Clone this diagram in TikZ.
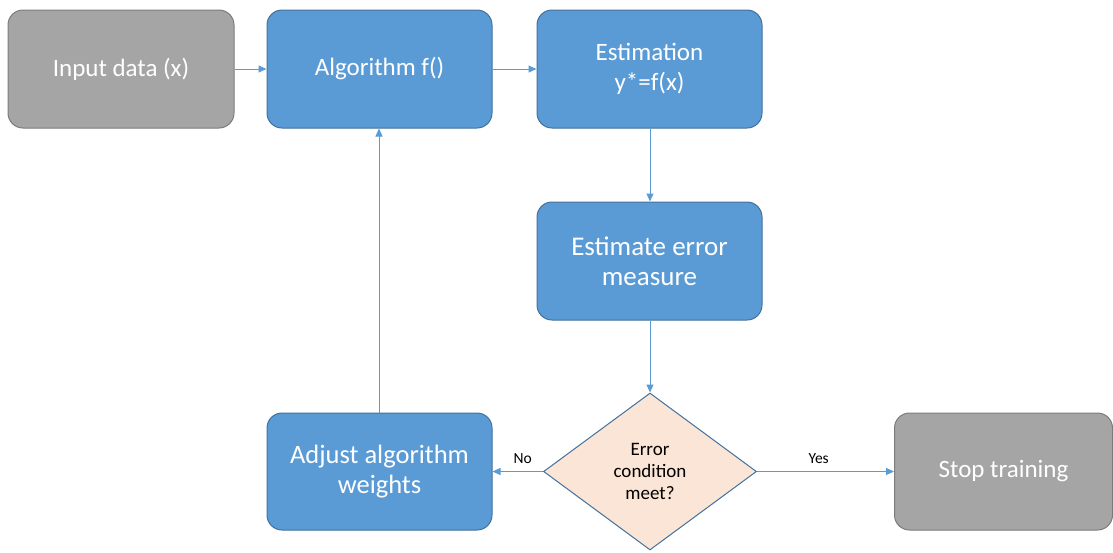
\documentclass[tikz,border=0pt]{standalone}
\usepackage{fontspec}
\setmainfont{Carlito}
\usetikzlibrary{shapes.geometric,arrows.meta}
\definecolor{bfill}{HTML}{5B9BD5}
\definecolor{bline}{HTML}{41719C}
\definecolor{gfill}{HTML}{A5A5A5}
\definecolor{gline}{HTML}{7C7C7C}
\definecolor{dfill}{HTML}{FBE5D6}
\definecolor{arr}{HTML}{5B9BD5}
\tikzset{
  box/.style={draw=bline, fill=bfill, line width=1pt, rounded corners=15pt,
    minimum width=225pt, minimum height=118pt, text=white, align=center,
    font=\fontsize{25}{30}\selectfont, inner sep=0pt},
  gbox/.style={box, draw=gline, fill=gfill},
  decis/.style={diamond, draw=bline, fill=dfill, line width=1pt,
    minimum width=213pt, minimum height=157pt, align=center, inner sep=0pt,
    font=\fontsize{19}{22}\selectfont},
  conn/.style={draw=arr, line width=1pt, -{Triangle[length=8pt,width=7pt]}},
  lbl/.style={font=\fontsize{15.5}{17}\selectfont, text=black}
}
\begin{document}
\begin{tikzpicture}[x=1pt,y=-1pt]
\useasboundingbox (0,0) rectangle (1113,552);
\node[gbox, minimum width=226pt] (in) at (121,69) {Input data (x)};
\node[box] (alg) at (379.5,69) {Algorithm f()};
\node[box] (est) at (649.5,69) {Estimation\\y*=f(x)};
\node[box, font=\fontsize{27}{30}\selectfont] (err) at (649.5,261) {Estimate error\\measure};
\node[decis] (dec) at (650,471.5) {Error\\condition\\meet?};
\node[box, font=\fontsize{26.5}{30}\selectfont, minimum height=117pt] (adj) at (379.5,471.5) {Adjust algorithm\\weights};
\node[gbox, minimum width=218pt, minimum height=117pt] (stop) at (1003.5,471.5) {Stop training};
\draw[conn] (in) -- (alg);
\draw[conn] (alg) -- (est);
\draw[conn] (est.south -| 650,0) -- (err.north -| 650,0);
\draw[conn] (err.south -| 650,0) -- (dec.north);
\draw[conn] (dec.west) -- node[lbl, above=4pt, pos=0.4] {No} (adj.east);
\draw[conn] (dec.east) -- node[lbl, above=4pt, pos=0.45] {Yes} (stop.west);
\draw[conn] (adj.north -| 379,0) -- (alg.south -| 379,0);
\end{tikzpicture}
\end{document}
